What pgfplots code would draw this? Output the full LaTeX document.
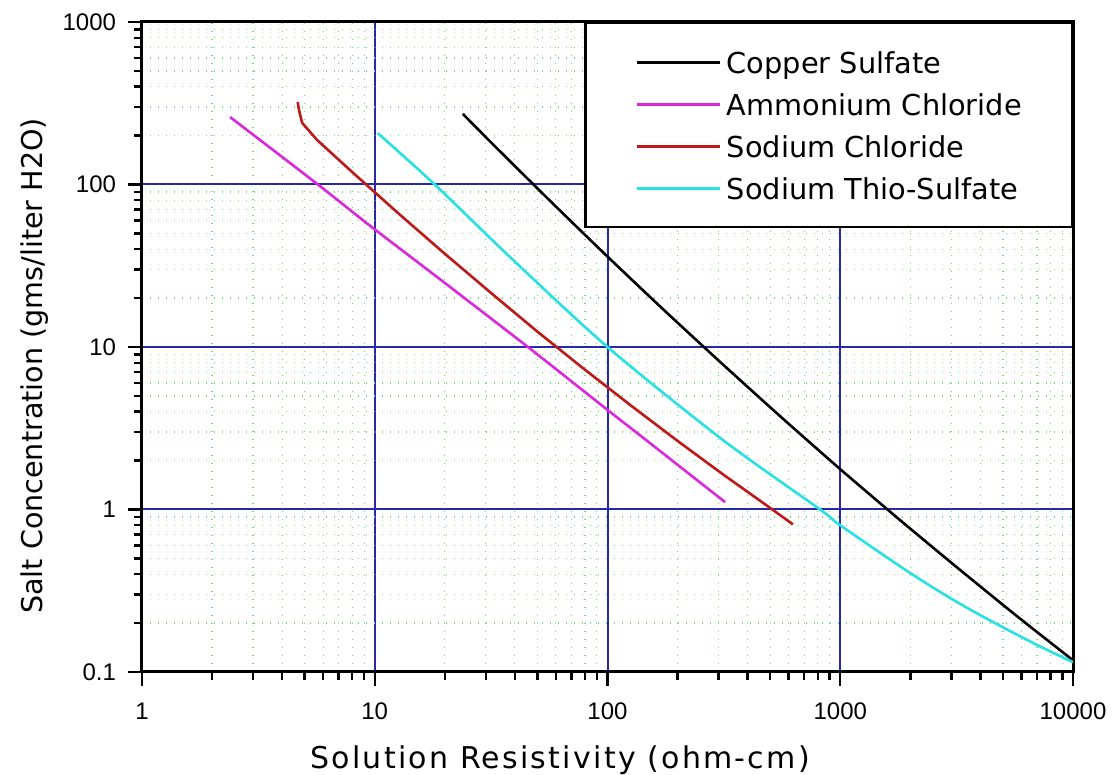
\documentclass[border=0pt]{standalone}
\usepackage{fontspec}
\setmainfont{DejaVu Sans}
\newfontfamily\tickfont{Liberation Sans}
\usepackage{pgfplots}
\pgfplotsset{compat=1.18}
\definecolor{cmag}{RGB}{220,40,220}
\definecolor{cred}{RGB}{190,25,25}
\definecolor{ccyan}{RGB}{40,225,225}
\definecolor{cgrid}{RGB}{40,40,170}
\definecolor{cminor}{RGB}{120,215,120}
\begin{document}
\begin{tikzpicture}
\useasboundingbox (-71pt,-51.5pt) rectangle (486pt,336pt);
\begin{axis}[
 xmode=log, ymode=log,
 scale only axis, width=465.5pt, height=325pt,
 xmin=1, xmax=10000, ymin=0.1, ymax=1000,
 xtick={1,10,100,1000,10000}, xticklabels={1,10,100,1000,10000},
 ytick={0.1,1,10,100,1000}, yticklabels={0.1,1,10,100,1000},
 minor xtick={2,3,4,5,6,7,8,9,20,30,40,50,60,70,80,90,200,300,400,500,600,700,800,900,2000,3000,4000,5000,6000,7000,8000,9000},
 minor ytick={0.2,0.3,0.4,0.5,0.6,0.7,0.8,0.9,2,3,4,5,6,7,8,9,20,30,40,50,60,70,80,90,200,300,400,500,600,700,800,900},
 xtick pos=left, ytick pos=left,
 tick align=outside, major tick length=7pt, minor tick length=4pt,
 major tick style={black, line width=1.2pt},
 minor tick style={black, line width=1.2pt},
 axis line style={line width=1.5pt},
 xmajorgrids, ymajorgrids, xminorgrids, yminorgrids,
 major grid style={cgrid, line width=1pt},
 minor grid style={cminor, line width=0.6pt, dash pattern=on 0.6pt off 3.4pt},
 ticklabel style={font=\tickfont\fontsize{12}{14}\selectfont},
 xticklabel style={yshift=-5pt},
 yticklabel style={xshift=-2.5pt},
 xlabel={Solution Resistivity (ohm-cm)},
 ylabel={Salt Concentration (gms/liter H2O)},
 xlabel style={at={(axis description cs:0.449,-0.135)}, anchor=center, font=\fontsize{15}{18}\selectfont\addfontfeature{LetterSpace=7.5}},
 ylabel style={at={(axis description cs:-0.1149,0.471)}, anchor=center, font=\fontsize{14.3}{17}\selectfont},
 legend style={at={(1,1)}, anchor=north east, draw=black, line width=1.2pt, fill=white,
   inner xsep=25pt, inner ysep=13pt, font=\fontsize{14.4}{16}\selectfont, row sep=8pt,
   nodes={inner sep=0pt, text height=12pt, text depth=1pt},
   /tikz/every odd column/.append style={column sep=2.5pt}},
 legend cell align=left,
 legend image code/.code={\draw[#1, line width=1.6pt] (0pt,0pt) -- (41.5pt,0pt);},
]
\addplot[black, line width=1.3pt, smooth, tension=0.4] coordinates {
 (23.9,272) (31.6,181.5) (56.2,80.2) (100,36.0) (177.8,16.5) (316.2,7.71) (562.3,3.66) (1000,1.77) (1778,0.877) (3162,0.442) (5623,0.226) (10000,0.118)};
\addlegendentry{Copper Sulfate}
\addplot[cmag, line width=1.3pt, smooth, tension=0.4] coordinates {
 (2.39,260) (5.7,100) (9.5,56) (18.5,27) (45.5,10) (100,4.1) (142,2.77) (320,1.11)};
\addlegendentry{Ammonium Chloride}
\addplot[cred, line width=1.3pt] coordinates {
 (4.67,322) (4.70,300) (4.76,275) (4.80,262) (4.88,239) (5.65,188) (7.94,120.5) (12.59,66.7) (19.95,37.6) (31.6,21.5) (50.1,12.4) (79.4,7.31) (125.9,4.37) (199.5,2.65) (316.2,1.63) (501,1.02) (626,0.81)};
\addlegendentry{Sodium Chloride}
\addplot[ccyan, line width=1.3pt, smooth, tension=0.5] coordinates {
 (10.3,207) (18.1,100) (38.1,35.8) (100,10) (313,2.68) (819,1) (1000,0.80) (1995,0.407) (3508,0.248) (6730,0.151) (10000,0.115)};
\addlegendentry{Sodium Thio-Sulfate}
\end{axis}
\end{tikzpicture}
\end{document}
